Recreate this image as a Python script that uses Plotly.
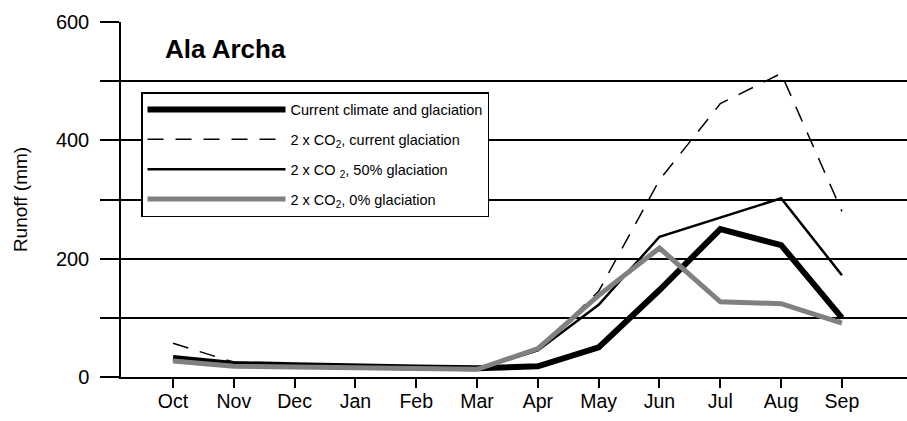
import plotly.graph_objects as go

months = ["Oct", "Nov", "Dec", "Jan", "Feb", "Mar", "Apr", "May", "Jun", "Jul", "Aug", "Sep"]
current = [32, 22, 20, 17, 16, 15, 18, 50, 147, 250, 223, 100]
co2_current = [57, 25, 20, 17, 16, 15, 45, 145, 333, 462, 513, 280]
co2_50 = [30, 20, 19, 16, 15, 13, 45, 122, 237, 270, 302, 172]
co2_0 = [27, 18, 17, 15, 14, 13, 48, 138, 218, 127, 124, 91]

names = [
    "Current climate and glaciation",
    "2 x CO<sub>2</sub>, current glaciation",
    "2 x CO <sub>2</sub>, 50% glaciation",
    "2 x CO<sub>2</sub>, 0% glaciation",
]

fig = go.Figure()
fig.add_trace(go.Scatter(x=months, y=current, mode="lines", name=names[0],
                         line=dict(color="black", width=6), legendgroup="a"))
fig.add_trace(go.Scatter(x=months, y=co2_current, mode="lines", name=names[1],
                         line=dict(color="black", width=1.5, dash="16px,12px"), legendgroup="b"))
fig.add_trace(go.Scatter(x=months, y=co2_50, mode="lines", name=names[2],
                         line=dict(color="black", width=2.5), legendgroup="c"))
fig.add_trace(go.Scatter(x=months, y=co2_0, mode="lines", name=names[3],
                         line=dict(color="#808080", width=5), legendgroup="d"))

L, T, B = 121, 22, 44
PW, PH = 907 - L, 421 - T - B

fig.update_layout(
    width=907, height=421,
    margin=dict(l=L, r=0, t=T, b=B),
    paper_bgcolor="white", plot_bgcolor="white",
    font=dict(family="Liberation Sans, Arial, sans-serif", color="black"),
    showlegend=True,
    legend=dict(
        x=(141 - L) / PW, y=(377 - 92) / PH, xanchor="left", yanchor="top",
        bgcolor="white", bordercolor="black", borderwidth=1.5,
        font=dict(size=14.5), itemwidth=138, tracegroupgap=8,
        traceorder="grouped",
    ),
    annotations=[dict(text="<b>Ala Archa</b>", xref="x domain", yref="y domain",
                      x=(163 - L) / PW, y=(377 - 49) / PH,
                      xanchor="left", yanchor="middle",
                      showarrow=False, font=dict(size=26))],
)

fig.update_xaxes(
    type="category", range=[-0.855, 12.07],
    showline=True, linecolor="black", linewidth=1.5,
    ticks="outside", ticklen=9, tickwidth=1.5, tickcolor="black",
    showgrid=False, zeroline=False,
    tickfont=dict(size=19.5), ticklabelstandoff=-3,
)
fig.update_yaxes(
    range=[0, 600], tickvals=[0, 200, 400, 600],
    showline=True, linecolor="black", linewidth=1.5,
    ticks="outside", ticklen=9, tickwidth=1.5, tickcolor="black",
    showgrid=True, gridcolor="black", gridwidth=1.5,
    minor=dict(dtick=100, ticklen=19, tickwidth=1.5, tickcolor="black",
               showgrid=True, gridcolor="black", gridwidth=1.5, ticks="outside"),
    zeroline=False,
    tickfont=dict(size=20), ticklabelstandoff=17,
    title=dict(text="Runoff (mm)", font=dict(size=19), standoff=23),
)

fig.write_html("out.html", post_script="document.body.style.margin='0';",
               config={"displayModeBar": False})
